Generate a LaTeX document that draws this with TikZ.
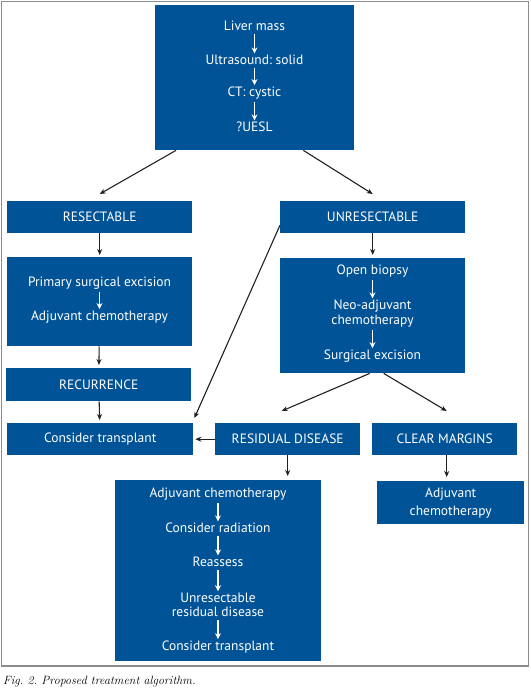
\documentclass[tikz,border=0pt]{standalone}
\usepackage{fontspec}
\setsansfont{PT Sans}
\usepackage{tikz}
\usetikzlibrary{arrows.meta}

\definecolor{boxblue}{RGB}{0,83,151}
\definecolor{arrowgray}{RGB}{35,31,32}
\definecolor{framegray}{RGB}{140,140,140}

\tikzset{
  blk/.style={fill=boxblue, draw=none, inner sep=0pt, anchor=north west,
    text=white, font=\sffamily\fontsize{13.5}{16}\selectfont},
  txt/.style={text=white, inner sep=0.5pt, align=center,
    font=\sffamily\fontsize{13.5}{16}\selectfont},
  flow/.style={draw=arrowgray, line width=1.1pt, -{Stealth[length=6pt,width=5pt]}},
  inflow/.style={draw=white, line width=1.3pt, shorten <=2pt, shorten >=1pt,
    -{Stealth[length=6pt,width=6pt]}}
}

\begin{document}
\frenchspacing
\begin{tikzpicture}[x=1pt,y=-1pt]
  \useasboundingbox (0,0) rectangle (530,690);
  % frame and caption
  \draw[framegray, line width=1.5pt] (1.5,1.5) rectangle (528.5,666);
  \node[anchor=west, inner sep=0pt, font=\itshape\fontsize{12}{14}\selectfont] (cap) at (3,682)
    {Fig. 2. Proposed treatment algorithm.};

  % top box
  \node[blk, minimum width=199, minimum height=145] (top) at (155,5) {};
  \node[txt] (liver) at (254.5,26) {Liver mass};
  \node[txt] (us) at (254.5,60) {Ultrasound: solid};
  \node[txt] (ct) at (254.5,93) {CT: cystic};
  \node[txt] (uesl) at (254.5,127) {?UESL};
  \draw[inflow] (liver) -- (us);
  \draw[inflow] (us) -- (ct);
  \draw[inflow] (ct) -- (uesl);

  % left branch
  \node[blk, minimum width=185, minimum height=32] (resect) at (7,201) {RESECTABLE};
  \node[blk, minimum width=185, minimum height=89] (prim) at (7,257) {};
  \node[txt] (excis) at (99.5,283) {Primary surgical excision};
  \node[txt] (adjl) at (99.5,317) {Adjuvant chemotherapy};
  \draw[inflow] (excis) -- (adjl);
  \node[blk, minimum width=185, minimum height=33] (recur) at (6,368) {RECURRENCE};
  \node[blk, minimum width=186, minimum height=32] (transp) at (7,423) {Consider transplant};

  % right branch
  \node[blk, minimum width=185, minimum height=32] (unres) at (280,201) {UNRESECTABLE};
  \node[blk, minimum width=185, minimum height=115] (open) at (280,258) {};
  \node[txt] (biopsy) at (372.5,271) {Open biopsy};
  \node[txt] (neo) at (372.5,313.5) {Neo-adjuvant\\[-1.5pt]chemotherapy};
  \node[txt] (surg) at (372.5,356) {Surgical excision};
  \draw[inflow] (biopsy) -- (neo);
  \draw[inflow] (neo) -- (surg);
  \node[blk, minimum width=145, minimum height=32] (resid) at (215,423) {RESIDUAL DISEASE};
  \node[blk, minimum width=145, minimum height=32] (clear) at (372,423) {CLEAR MARGINS};

  % residual disease pathway
  \node[blk, minimum width=206, minimum height=181] (resbox) at (115,480) {};
  \node[txt] (adjr) at (218,494) {Adjuvant chemotherapy};
  \node[txt] (rad) at (218,528) {Consider radiation};
  \node[txt] (reass) at (218,562) {Reassess};
  \node[txt] (unresid) at (218,605) {Unresectable\\[-1.5pt]residual disease};
  \node[txt] (transr) at (218,647) {Consider transplant};
  \draw[inflow] (adjr) -- (rad);
  \draw[inflow] (rad) -- (reass);
  \draw[inflow] (reass) -- (unresid);
  \draw[inflow] (unresid) -- (transr);

  % clear margins pathway
  \node[blk, minimum width=147, minimum height=43, align=center,
    font=\sffamily\fontsize{13.5}{18}\selectfont] (adjc) at (377,481) {Adjuvant\\chemotherapy};

  % connectors
  \draw[flow] ([xshift=21pt]top.south west) -- ([yshift=7pt]resect.north);
  \draw[flow] ([xshift=-51pt]top.south east) -- ([yshift=7pt]unres.north);
  \draw[flow, shorten >=2pt] (resect) -- (prim);
  \draw[flow, shorten >=3pt] (prim) -- (recur);
  \draw[flow, shorten >=3pt] (recur) -- (transp);
  \draw[flow, shorten >=3pt] (unres) -- (open);
  \draw[flow] ([yshift=-8pt]unres.west) -- ([xshift=1pt,yshift=5pt]transp.north east);
  \draw[flow] ([xshift=-3pt]open.south) -- ([xshift=-6pt,yshift=12pt]resid.north);
  \draw[flow] ([xshift=11pt]open.south) -- ([xshift=2pt,yshift=12pt]clear.north);
  \draw[flow, shorten >=2pt] (resid) -- (transp);
  \draw[flow, shorten >=4pt] (resid.south) -- (resid.south |- resbox.north);
  \draw[flow, shorten >=4pt] ([xshift=2pt]clear.south) -- ([xshift=2pt]clear.south |- adjc.north);
\end{tikzpicture}
\end{document}
